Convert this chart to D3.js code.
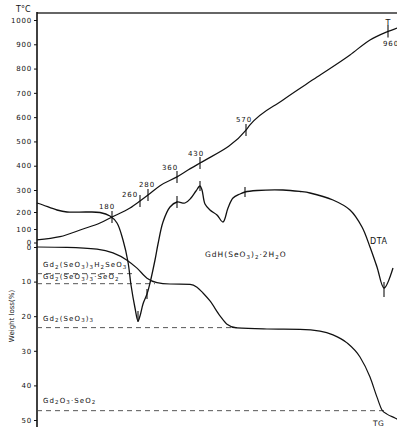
<!DOCTYPE html>
<html><head><meta charset="utf-8">
<script src="https://cdn.jsdelivr.net/npm/d3@7"></script>
<style>body{margin:0;background:#fff}svg{display:block}text{font-family:"DejaVu Sans",sans-serif;fill:#111}</style>
</head><body><svg id="c" width="397" height="427"></svg>
<script>
// ---------- data ----------
const tempTicks = [0,100,200,300,400,500,600,700,800,900,1000];
const weightTicks = [0,10,20,30,40,50];

// temperature curve T (time in arbitrary units, temperature in °C)
const timeT = [0,23,46,63,75,93,103,111,123,140,151,163,209,213,246,280,313,333,350,360];
const tempT = [20,43,100,135,171,218,250,277,318,354,382,411,547,568,671,765,856,918,951,967];

// DTA curve (arbitrary units)
const timeDTA = [0,6,20,30,50,63,73,80,86,91,94,98,101,103,106,110,113,118,121,126,133,140,148,154,159,163,165,168,173,180,186,191,196,203,208,220,246,263,273,296,313,325,333,340,347,356];
const dtaVals = [47,45,40,38,38,37.5,34,27,10,-12,-35,-58,-71,-66,-54,-44,-33,-10,6,28,43,48,47,52,59,64,60,46,40,35,28,42,52,56,58,59.5,60,58.5,57,50,40,23,3,-17,-38,-18];

// TG curve (weight loss %)
const timeTG = [0,30,60,76,90,100,110,120,133,153,160,166,173,183,190,200,230,263,283,296,310,323,333,340,345,350,358,362];
const weightTG = [0,0.1,0.6,1.7,3.8,6.1,9.0,10.3,10.7,10.8,11.6,13.3,15.6,19.9,22.3,23.4,23.7,23.8,24.3,25.4,27.7,31.8,37.6,43.4,47.1,48.3,49.4,50];

// temperature marks on the T curve
const tMarkLabels = ["180","260","280","360","430","570","960"];
const tMarkTimes = [75,103,111,140,163,209,351];
// tick marks on the DTA curve
const dtaMarkTimes = [101,110,140,163,208,347];

// intermediate phases (weight loss %)
const phaseNames = ["Gd2(SeO3)3H2SeO3","Gd2(SeO3)3·SeO2","Gd2(SeO3)3","Gd2O3·SeO2"];
const phaseLoss = [7.7,10.6,23.3,47.3];
const phaseEndTime = [98,118,200,348];

const compoundName = "GdH(SeO3)2·2H2O";

// ---------- layout ----------
const W = 397, H = 427;
const svg = d3.select("#c");
const x = d3.scaleLinear().domain([0,360]).range([37,397]);
const yT = d3.scaleLinear().domain([0,100,200,300,1000]).range([242.5,229,212,190,20]);
const yW = d3.scaleLinear().domain([0,50]).range([247,420]);
const yD = d3.scaleLinear().domain([-100,100]).range([350,150]);
const ink = "#111";

// frame
svg.append("line").attr("x1",37).attr("x2",W).attr("y1",13).attr("y2",13).attr("stroke","#333").attr("stroke-width",1.5);
svg.append("line").attr("x1",37).attr("x2",37).attr("y1",12).attr("y2",H).attr("stroke",ink).attr("stroke-width",1.6);

function styleAxis(g){
  g.select(".domain").remove();
  g.selectAll(".tick line").attr("stroke",ink).attr("stroke-width",1);
  g.selectAll(".tick text").attr("font-size",7).attr("letter-spacing",0.8).attr("fill",ink)
   .attr("font-family","DejaVu Sans, sans-serif");
}
svg.append("g").attr("transform","translate(37,0)")
  .call(d3.axisLeft(yT).tickValues(tempTicks).tickSize(3).tickPadding(2).tickFormat(d3.format("d")))
  .call(styleAxis);
svg.append("g").attr("transform","translate(37,0)")
  .call(d3.axisLeft(yW).tickValues(weightTicks).tickSize(3).tickPadding(2).tickFormat(d3.format("d")))
  .call(styleAxis);

svg.append("text").attr("x",16).attr("y",12).attr("font-size",8).text("T°C");
svg.append("text").attr("transform","translate(14,316) rotate(-90)").attr("text-anchor","middle")
  .attr("font-size",7).text("Weight loss(%)");

// chemical text with subscripts
function chem(sel, str, shift){
  let sub=false;
  for (let i=0;i<str.length;i++){
    const c=str[i];
    const isDigit=/[0-9]/.test(c);
    const prev=i>0?str[i-1]:"";
    const subscript=isDigit && /[A-Za-z)\]]/.test(prev) || (isDigit && sub && /[0-9]/.test(prev));
    const t=sel.append("tspan").text(c);
    if (subscript && !sub){ t.attr("dy",shift).attr("font-size",5.5); sub=true; }
    else if (subscript && sub){ t.attr("font-size",5.5); }
    else if (!subscript && sub){ t.attr("dy",-shift); sub=false; }
  }
}

// phase dashed lines
phaseLoss.forEach((p,i)=>{
  svg.append("line").attr("x1",37).attr("x2",x(phaseEndTime[i]))
    .attr("y1",yW(p)).attr("y2",yW(p))
    .attr("stroke","#444").attr("stroke-width",0.9).attr("stroke-dasharray","5,4");
});
const phaseLabelY = [-6.5,-4.2,-7,-8];
phaseNames.forEach((n,i)=>{
  const t=svg.append("text").attr("x",43).attr("y",yW(phaseLoss[i])+phaseLabelY[i])
    .attr("font-size",7).attr("letter-spacing",1.1);
  chem(t,n,1.5);
});

// curves
const lineT = d3.line().x((d,i)=>x(timeT[i])).y(d=>yT(d)).curve(d3.curveMonotoneX);
svg.append("path").attr("d",lineT(tempT)).attr("fill","none").attr("stroke",ink).attr("stroke-width",1.2);

const lineD = d3.line().x((d,i)=>x(timeDTA[i])).y(d=>yD(d)).curve(d3.curveCatmullRom.alpha(0.5));
svg.append("path").attr("d",lineD(dtaVals)).attr("fill","none").attr("stroke",ink).attr("stroke-width",1.3);

const lineW = d3.line().x((d,i)=>x(timeTG[i])).y(d=>yW(d)).curve(d3.curveMonotoneX);
svg.append("path").attr("d",lineW(weightTG)).attr("fill","none").attr("stroke",ink).attr("stroke-width",1.2);

// T markers
const tempAt = d3.scaleLinear().domain(timeT).range(tempT);
const tLabelOff = [[-5,-8],[-10,-4],[-1,-8],[-7,-7],[-4,-7],[-2,-8],[-5,14]];
tMarkTimes.forEach((tm,i)=>{
  const px=x(tm), py=yT(tempAt(tm));
  svg.append("line").attr("x1",px).attr("x2",px).attr("y1",py-6).attr("y2",py+6).attr("stroke",ink).attr("stroke-width",1.1);
  svg.append("text").attr("x",px+tLabelOff[i][0]).attr("y",py+tLabelOff[i][1])
    .attr("text-anchor", i===6?"start":"middle").attr("font-size",7).attr("letter-spacing",0.9)
    .text(tMarkLabels[i]);
});
// DTA markers
const dtaAt = d3.scaleLinear().domain(timeDTA).range(dtaVals);
const dtaTickSpan = [[-10,1],[-5,5],[-6,6],[-5,5],[-5,5],[-6,9]];
dtaMarkTimes.forEach((tm,i)=>{
  const px=x(tm), py=yD(dtaAt(tm));
  svg.append("line").attr("x1",px).attr("x2",px).attr("y1",py+dtaTickSpan[i][0]).attr("y2",py+dtaTickSpan[i][1])
    .attr("stroke",ink).attr("stroke-width",1.1);
});

// curve names
svg.append("text").attr("x",x(351)).attr("y",26).attr("text-anchor","middle").attr("font-size",8).text("T");
svg.append("text").attr("x",370).attr("y",244).attr("font-size",8).attr("letter-spacing",0.5).text("DTA");
svg.append("text").attr("x",373).attr("y",426).attr("font-size",7.5).attr("letter-spacing",0.5).text("TG");
const cn = svg.append("text").attr("x",205).attr("y",257).attr("font-size",7.5).attr("letter-spacing",1);
chem(cn, compoundName, 2);
</script>
</body></html>
